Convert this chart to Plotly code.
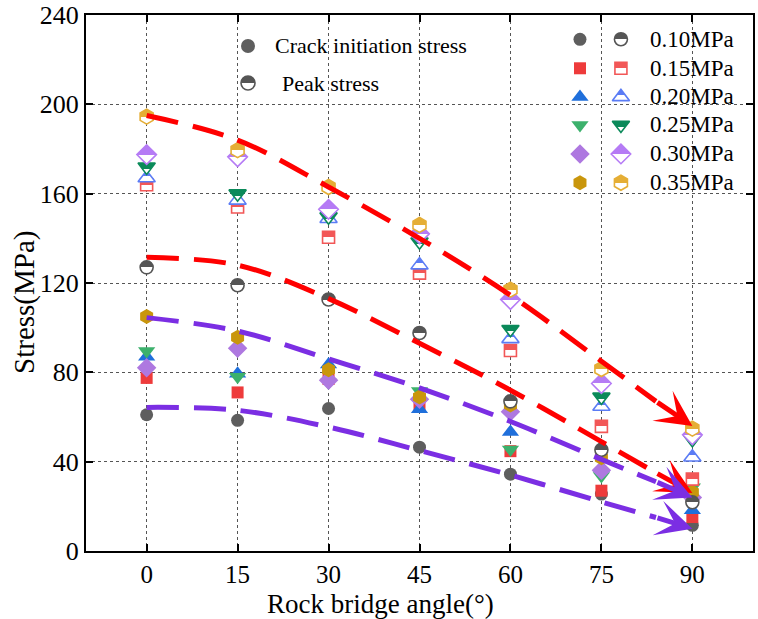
import plotly.graph_objects as go

# ---------------- data ----------------
angles = [0, 15, 30, 45, 60, 75, 90]
pressures = ["0.10MPa", "0.15MPa", "0.20MPa", "0.25MPa", "0.30MPa", "0.35MPa"]

crack_010 = [61, 58.5, 63.8, 46.5, 34.4, 25.5, 11.5]
crack_015 = [77.5, 71, 77, 65, 44.7, 27, 15.2]
crack_020 = [87, 79.4, 83.5, 63.5, 53.3, 37, 18.2]
crack_025 = [89.5, 78, 75.4, 71.6, 45.5, 33.6, 28.5]
crack_030 = [82, 90.8, 76.5, 68, 62.4, 36.2, 24]
crack_035 = [105, 95.7, 81.2, 69, 65.4, 41.8, 26.3]

peak_010 = [127, 119, 112.6, 97.6, 67, 45.3, 21.8]
peak_015 = [164, 154, 140.5, 124.4, 89.8, 55.8, 32.2]
peak_020 = [167, 157, 148.8, 128, 95, 64.7, 42]
peak_025 = [172, 160, 149.7, 138.5, 99.3, 69, 50]
peak_030 = [177.5, 176.5, 153, 142, 112.6, 75, 52]
peak_035 = [194.5, 179.5, 163, 146, 117, 81.5, 54.8]

trend_x = [0, 15, 30, 45, 60, 75, 84, 90]
peak_trend_upper = [195, 184, 163, 140, 114.5, 85, 67, 56]
peak_trend_lower = [131.5, 128, 113, 93, 72, 49, 35, 26]
crack_trend_upper = [104.5, 98.5, 86, 73, 58, 41, 31, 24]
crack_trend_lower = [64.3, 63, 55.5, 45, 34, 22, 15, 10]

x_ticks = [0, 15, 30, 45, 60, 75, 90]
y_ticks = [0, 40, 80, 120, 160, 200, 240]

# ---------------- styles ----------------
crack_series = [crack_010, crack_015, crack_020, crack_025, crack_030, crack_035]
peak_series = [peak_010, peak_015, peak_020, peak_025, peak_030, peak_035]
symbols = ["circle", "square", "triangle-up", "triangle-down", "diamond", "hexagon"]
sizes = [13, 12, 15, 15, 15, 15]
crack_colors = ["#5e5e5e", "#ee3b3b", "#1f6fdb", "#3cb16c", "#ae78e0", "#c9960c"]
peak_colors = ["#555555", "#f25757", "#5b7cf5", "#0b8a5a", "#b57bf5", "#e5ae35"]
RED = "#ff0000"
PURPLE = "#7b2ee3"
FONT = "Liberation Serif"


def half_marker(sym, size, col):
    # top half filled with colour, bottom half white (hard edge set in post_script)
    return dict(symbol=sym, size=size, color=col,
                gradient=dict(type="vertical", color="white"),
                line=dict(width=1.6, color=col))


fig = go.Figure()

for i in range(6):
    fig.add_trace(go.Scatter(
        x=angles, y=crack_series[i], mode="markers", showlegend=False,
        marker=dict(symbol=symbols[i], size=sizes[i], color=crack_colors[i],
                    line=dict(width=0))))
for i in range(6):
    fig.add_trace(go.Scatter(
        x=angles, y=peak_series[i], mode="markers", showlegend=False,
        marker=half_marker(symbols[i], sizes[i], peak_colors[i])))

trends = [(peak_trend_upper, RED), (peak_trend_lower, RED),
          (crack_trend_upper, PURPLE), (crack_trend_lower, PURPLE)]
for ys, col in trends:
    fig.add_trace(go.Scatter(
        x=trend_x[:-1], y=ys[:-1], mode="lines", showlegend=False,
        line=dict(color=col, width=5, dash="32px,15px", shape="spline", smoothing=1.0)))
    fig.add_annotation(x=trend_x[-1], y=ys[-1], ax=trend_x[-2], ay=ys[-2],
                       xref="x", yref="y", axref="x", ayref="y", text="",
                       showarrow=True, arrowhead=3, arrowsize=1.2, arrowwidth=5,
                       arrowcolor=col)

# ---------------- legend (overlay axes 0..1) ----------------
leg_rows = [0.9547, 0.9006, 0.8472, 0.7948, 0.7407, 0.6871]
leg_x_filled, leg_x_open, leg_x_text = 0.7406, 0.802, 0.8426
for i in range(6):
    fig.add_trace(go.Scatter(
        x=[leg_x_filled], y=[leg_rows[i]], xaxis="x2", yaxis="y2", mode="markers",
        showlegend=False, hoverinfo="skip",
        marker=dict(symbol=symbols[i], size=sizes[i], color=crack_colors[i], line=dict(width=0))))
    fig.add_trace(go.Scatter(
        x=[leg_x_open], y=[leg_rows[i]], xaxis="x2", yaxis="y2", mode="markers",
        showlegend=False, hoverinfo="skip",
        marker=half_marker(symbols[i], sizes[i], peak_colors[i])))
    fig.add_annotation(x=leg_x_text, y=leg_rows[i], xref="paper", yref="paper",
                       text=pressures[i], showarrow=False, xanchor="left", yanchor="middle",
                       font=dict(family=FONT, size=23, color="black"))

fig.add_trace(go.Scatter(
    x=[0.2429], y=[0.9422], xaxis="x2", yaxis="y2", mode="markers", showlegend=False,
    marker=dict(symbol="circle", size=14, color=crack_colors[0], line=dict(width=0))))
fig.add_trace(go.Scatter(
    x=[0.2429], y=[0.8731], xaxis="x2", yaxis="y2", mode="markers", showlegend=False,
    marker=half_marker("circle", 14, peak_colors[0])))
fig.add_annotation(x=0.2804, y=0.9422, xref="paper", yref="paper", text="Crack initiation stress",
                   showarrow=False, xanchor="left", yanchor="middle",
                   font=dict(family=FONT, size=22, color="black"))
fig.add_annotation(x=0.291, y=0.8731, xref="paper", yref="paper", text="Peak stress",
                   showarrow=False, xanchor="left", yanchor="middle",
                   font=dict(family=FONT, size=22, color="black"))

# axis titles (placed as in the reference, slightly off-centre)
fig.add_annotation(x=0.4408, y=-0.0989, xref="paper", yref="paper", text="Rock bridge angle(°)",
                   showarrow=False, xanchor="center", yanchor="middle",
                   font=dict(family=FONT, size=27, color="black"))
fig.add_annotation(x=-0.0915, y=0.4646, xref="paper", yref="paper", text="Stress(MPa)",
                   showarrow=False, xanchor="center", yanchor="middle", textangle=-90,
                   font=dict(family=FONT, size=29, color="black"))

axis_common = dict(showline=True, linecolor="black", linewidth=2, mirror="ticks",
                   ticks="inside", ticklen=7, tickwidth=2, tickcolor="black",
                   showgrid=True, gridcolor="#555555", gridwidth=1, griddash="dot",
                   zeroline=False, ticklabeloverflow="allow", automargin=False)

fig.update_layout(
    width=758, height=619,
    margin=dict(l=86, r=5, t=15, b=68),
    paper_bgcolor="white", plot_bgcolor="white",
    font=dict(family=FONT, color="black"),
    xaxis=dict(range=[-10, 100], tickvals=x_ticks,
               tickfont=dict(family=FONT, size=25, color="black"), **axis_common),
    yaxis=dict(range=[0, 240], tickvals=y_ticks,
               tickfont=dict(family=FONT, size=26, color="black"), **axis_common),
    xaxis2=dict(overlaying="x", range=[0, 1], visible=False),
    yaxis2=dict(overlaying="y", range=[0, 1], visible=False),
)

# make the vertical marker gradients a hard half/half split
post_js = """
document.querySelectorAll('linearGradient').forEach(function(g){
  var stops = g.querySelectorAll('stop');
  if (stops.length === 2) {
    stops[0].setAttribute('offset', '50%');
    stops[1].setAttribute('offset', '50%');
  }
});
"""

fig.write_html("out.html", post_script=post_js)
